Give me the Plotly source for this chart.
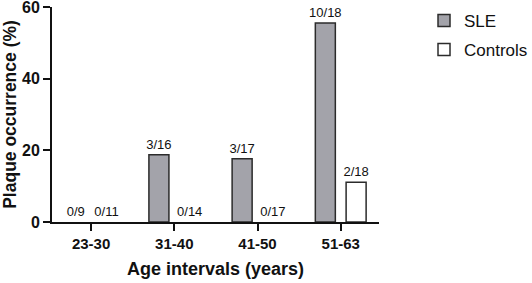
import plotly.graph_objects as go

categories = ["23-30", "31-40", "41-50", "51-63"]
sle_values = [0/9*100, 3/16*100, 3/17*100, 10/18*100]
sle_labels = ["0/9", "3/16", "3/17", "10/18"]
ctrl_values = [0/11*100, 0/14*100, 0/17*100, 2/18*100]
ctrl_labels = ["0/11", "0/14", "0/17", "2/18"]
y_ticks = [0, 20, 40, 60]

FONT = "Liberation Sans, Arial, sans-serif"
SLE_FILL = "#a3a3aa"
CTRL_FILL = "white"
EDGE = "#2b2b2b"


def outline_widths(values):
    return [1.5 if v > 0 else 0 for v in values]


fig = go.Figure()
fig.add_trace(go.Bar(
    x=categories, y=sle_values, name="SLE", showlegend=False,
    offsetgroup="sle",
    marker=dict(color=SLE_FILL, line=dict(color=EDGE, width=outline_widths(sle_values))),
    text=sle_labels, textposition="outside", cliponaxis=False, constraintext="none",
    textfont=dict(family=FONT, size=13, color="#111"),
))
fig.add_trace(go.Bar(
    x=categories, y=ctrl_values, name="Controls", showlegend=False,
    offsetgroup="ctrl",
    marker=dict(color=CTRL_FILL, line=dict(color=EDGE, width=outline_widths(ctrl_values))),
    text=ctrl_labels, textposition="outside", cliponaxis=False, constraintext="none",
    textfont=dict(family=FONT, size=13, color="#111"),
))
# legend entries
fig.add_trace(go.Bar(x=[None], y=[None], name="SLE", offsetgroup="sle", legendgroup="a",
                     marker=dict(color=SLE_FILL, line=dict(color=EDGE, width=1.5))))
fig.add_trace(go.Bar(x=[None], y=[None], name="Controls", offsetgroup="ctrl", legendgroup="b",
                     marker=dict(color=CTRL_FILL, line=dict(color=EDGE, width=1.5))))

fig.update_layout(
    width=532, height=283,
    margin=dict(l=52, r=153, t=7, b=61, autoexpand=False),
    paper_bgcolor="white", plot_bgcolor="white",
    barmode="group", bargap=0.26, bargroupgap=0.35,
    font=dict(family=FONT, color="#111"),
    showlegend=True,
    legend=dict(xref="container", yref="container", x=0.797, y=0.99,
                xanchor="left", yanchor="top",
                font=dict(family=FONT, size=17, color="#111"),
                traceorder="grouped", tracegroupgap=4,
                itemwidth=30, bgcolor="rgba(0,0,0,0)"),
)
fig.update_xaxes(
    type="category", range=[-0.47, 3.46], automargin=False,
    showline=True, linecolor="#111", linewidth=2,
    ticks="outside", ticklen=7, tickwidth=2, tickcolor="#111",
    tickfont=dict(family=FONT, size=15, color="#111", weight="bold"),
    title=dict(text="<b>Age intervals (years)</b>", font=dict(family=FONT, size=18, color="#111"), standoff=11),
    showgrid=False, zeroline=False,
)
fig.update_yaxes(
    range=[0, 60], tickvals=y_ticks, ticklabeloverflow="allow", automargin=False,
    showline=True, linecolor="#111", linewidth=2,
    ticks="outside", ticklen=7, tickwidth=2, tickcolor="#111",
    tickfont=dict(family=FONT, size=16, color="#111", weight="bold"),
    title=dict(text="<b>Plaque occurrence (%)</b>", font=dict(family=FONT, size=17.5, color="#111"), standoff=8),
    showgrid=False, zeroline=False,
)

fig.write_html("out.html", config={"displayModeBar": False},
               post_script="document.body.style.margin='0';")
